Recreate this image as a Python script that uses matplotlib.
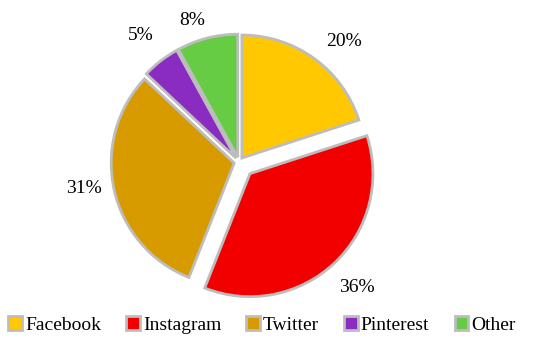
import matplotlib
matplotlib.use('Agg')
from matplotlib import pyplot as plt
import numpy as np

labels = ['Facebook', 'Instagram', 'Twitter', 'Pinterest', 'Other']
shares = [20, 36, 31, 5, 8]
colors = ['#FFC800', '#F20000', '#D79B00', '#8A2BC2', '#66CC44']
explode = [0.04, 0.13, 0.04, 0.04, 0.04]
label_dist = [1.26, 1.27, 1.24, 1.26, 1.17]
label_turn = [-5, 0, -3, 0, 4]  # degrees

plt.rcParams['font.family'] = ['Liberation Serif', 'DejaVu Serif']

fig = plt.figure(figsize=(5.5, 3.43), dpi=100)
ax = fig.add_axes([89 / 550, 31 / 343, 300 / 550, 300 / 343])

wedges, texts, autotexts = ax.pie(
    shares, colors=colors, explode=explode, startangle=90, counterclock=False,
    autopct='%d%%', pctdistance=1.25, radius=1,
    wedgeprops=dict(edgecolor='#bdbdbd', linewidth=2),
    textprops=dict(fontsize=14, color='black'))

# per-slice label placement, like the original layout
for w, t, d, e, turn in zip(wedges, autotexts, label_dist, explode, label_turn):
    mid = np.deg2rad((w.theta1 + w.theta2) / 2)
    ang = mid + np.deg2rad(turn)
    t.set_position((e * np.cos(mid) + d * np.cos(ang),
                    e * np.sin(mid) + d * np.sin(ang)))

lim = 150 / 123
ax.set_xlim(-lim, lim)
ax.set_ylim(-lim, lim)
ax.set_aspect('equal')
ax.axis('off')

fig.legend(wedges, labels, loc='center', bbox_to_anchor=(262 / 550, 1 - 325 / 343),
           ncol=5, frameon=False, fontsize=14, handlelength=0.7, handleheight=0.7,
           handletextpad=0.15, columnspacing=1.3)

plt.savefig('out.png')
plt.close()
